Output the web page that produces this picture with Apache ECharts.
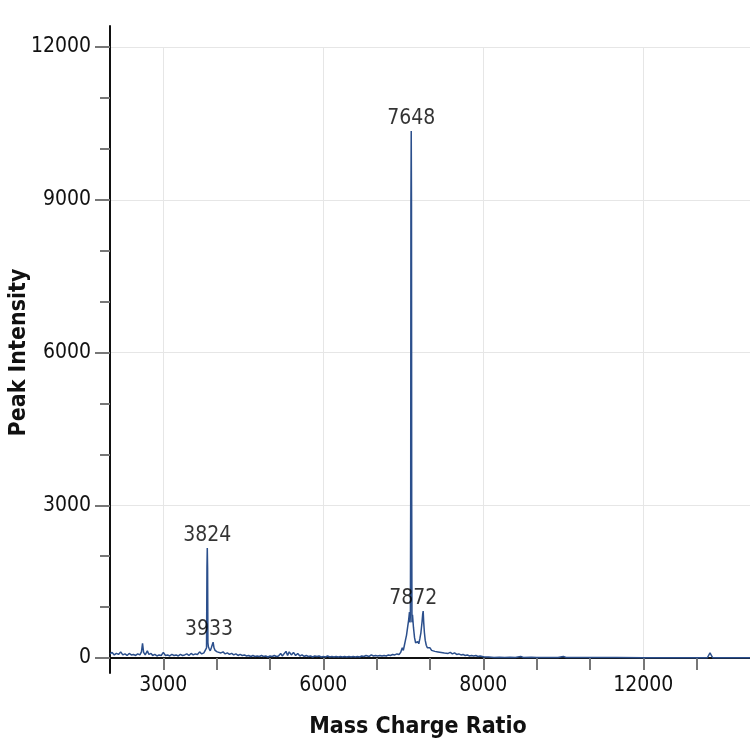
<!DOCTYPE html>
<html>
<head>
<meta charset="utf-8">
<script src="https://cdn.jsdelivr.net/npm/echarts@6/dist/echarts.min.js"></script>
<style>
    html, body { margin: 0; padding: 0; background: #fff; }
    #main { width: 750px; height: 750px; }
</style>
</head>
<body>
<div id="main"></div>
<script>
// spectrum, [m/z, intensity]
var lowRange = [
    [2000, 80], [2040, 110], [2080, 60], [2120, 90], [2160, 70], [2200, 120], [2240, 60], [2280, 80],
    [2320, 50], [2360, 90], [2400, 60], [2440, 70], [2480, 50], [2520, 80], [2560, 60], [2590, 120],
    [2610, 290], [2630, 110], [2660, 60], [2700, 140], [2730, 70], [2770, 90], [2800, 50], [2840, 70],
    [2880, 40], [2920, 60], [2960, 50], [3000, 110], [3040, 50], [3080, 60], [3120, 40], [3160, 70],
    [3200, 50], [3240, 60], [3280, 40], [3320, 70], [3360, 50], [3400, 60], [3440, 80], [3480, 50],
    [3520, 90], [3560, 60], [3600, 80], [3640, 70], [3680, 120], [3720, 80], [3760, 100], [3790, 130]
];
var peak3824 = [
    [3810, 200], [3818, 1770], [3824, 2160], [3830, 1770], [3836, 300], [3845, 220], [3860, 180],
    [3880, 140], [3900, 200], [3915, 230], [3933, 310], [3950, 200], [3970, 150], [3990, 180],
    [4010, 120], [4040, 140]
];
var midRange = [
    [4080, 100], [4120, 120], [4160, 80], [4200, 100], [4240, 70], [4280, 90], [4320, 60], [4360, 80],
    [4400, 50], [4440, 70], [4480, 50], [4520, 60], [4560, 40], [4600, 50], [4640, 30], [4680, 50],
    [4720, 30], [4760, 40], [4800, 30], [4840, 50], [4880, 30], [4920, 40], [4960, 20], [5000, 40],
    [5040, 30], [5080, 50], [5120, 30], [5160, 40], [5200, 90], [5230, 40], [5260, 60], [5300, 130],
    [5330, 50], [5360, 120], [5400, 60], [5440, 110], [5480, 50], [5520, 90], [5560, 40], [5600, 60],
    [5640, 30], [5680, 50], [5720, 30], [5760, 40], [5800, 20], [5840, 40], [5880, 30], [5920, 40],
    [5960, 20], [6000, 30], [6040, 20], [6080, 40], [6120, 20], [6160, 30], [6200, 20], [6240, 30],
    [6280, 20], [6320, 30], [6360, 20], [6400, 30], [6440, 20], [6480, 30], [6520, 20], [6560, 30],
    [6600, 20], [6640, 30], [6680, 20], [6720, 40], [6760, 30], [6800, 50], [6830, 40], [6860, 30],
    [6900, 60], [6940, 40], [6980, 50], [7020, 40], [7060, 50], [7100, 40], [7140, 50], [7180, 40],
    [7220, 60], [7260, 50], [7300, 70], [7340, 60], [7380, 80], [7420, 70], [7450, 110]
];
var peak7648 = [
    [7480, 200], [7500, 150], [7520, 250], [7540, 350], [7560, 450], [7580, 600], [7600, 750],
    [7615, 900], [7625, 700], [7632, 850], [7638, 3100], [7642, 8900], [7648, 10350], [7653, 8900],
    [7657, 3100], [7662, 700], [7672, 850], [7690, 600], [7710, 400], [7730, 300], [7750, 270],
    [7770, 320], [7790, 280], [7810, 380], [7830, 500], [7850, 700], [7862, 850], [7872, 920],
    [7882, 700], [7895, 500], [7910, 350], [7930, 250], [7950, 200], [7970, 170]
];
var highRange = [
    [8000, 200], [8030, 150], [8060, 180], [8090, 130], [8120, 160], [8150, 120], [8180, 140],
    [8210, 110], [8240, 130], [8270, 100], [8300, 120], [8340, 90], [8380, 110], [8420, 80],
    [8460, 100], [8500, 70], [8540, 80], [8580, 60], [8620, 70], [8660, 50], [8700, 60], [8740, 40],
    [8780, 50], [8820, 40], [8860, 50], [8900, 30], [8940, 40], [8980, 30], [9020, 20], [9100, 20],
    [9200, 10], [9300, 15], [9400, 10], [9500, 15], [9600, 10], [9700, 30], [9750, 10], [9900, 15],
    [10000, 10], [10200, 10], [10400, 10], [10500, 30], [10550, 10], [10800, 10], [11000, 10],
    [11200, 10], [11500, 10], [12000, 5], [12500, 5], [13000, 5], [13200, 5], [13250, 100],
    [13300, 5], [13500, 5], [14000, 5]
];

// labelled peaks
var peakNames = ['3824', '3933', '7648', '7872'];
var peakMz = [3824, 3933, 7648, 7872];
var peakOffsets = [[0, 0], [-4, 0], [0, 0], [-10, 0]];

// x tick labels as printed in the original (note the 8000)
var xTickValues = [3000, 6000, 9000, 12000];
var xTickLabels = ['3000', '6000', '8000', '12000'];

var FONT = "'Liberation Sans Narrow', 'DejaVu Sans Condensed', 'Noto Sans', sans-serif";
var chart = echarts.init(document.getElementById('main'));

var spectrum = [].concat(lowRange, peak3824, midRange, peak7648, highRange);

// points that carry a peak label
var labelled = spectrum.filter(function (p) {
    return peakMz.indexOf(p[0]) >= 0;
}).map(function (p) {
    var k = peakMz.indexOf(p[0]);
    return {
        value: p,
        label: { offset: peakOffsets[k], formatter: peakNames[k] }
    };
});

var thinAxis = {
    type: 'value',
    min: 0,
    max: 1,
    axisLine: { show: true, lineStyle: { color: '#111', width: 2 } },
    axisTick: { show: false },
    axisLabel: { show: false },
    splitLine: { show: false }
};

chart.setOption({
    backgroundColor: '#fff',
    animation: false,
    grid: [
        { left: 110, right: 0, top: 47, bottom: 92, outerBoundsMode: 'none', containLabel: false },
        // bits of the y axis line that run past 0 and 12000
        { left: 110, right: 0, top: 658, bottom: 77, outerBoundsMode: 'none', containLabel: false },
        { left: 110, right: 0, top: 26, height: 21, outerBoundsMode: 'none', containLabel: false }
    ],
    xAxis: [{
        type: 'value',
        min: 2000,
        max: 14000,
        interval: 1000,
        name: 'Mass Charge Ratio',
        nameLocation: 'middle',
        nameGap: 58,
        nameMoveOverlap: false,
        nameTextStyle: { fontFamily: FONT, fontSize: 23, fontWeight: 'bold', color: '#111', padding: [0, 24, 0, 0] },
        axisLine: { onZero: false, lineStyle: { color: '#111', width: 2 } },
        axisTick: { show: true, length: 12, lineStyle: { color: '#777', width: 2 } },
        axisLabel: {
            margin: 17,
            fontFamily: FONT,
            fontSize: 21,
            color: '#111',
            showMinLabel: false,
            showMaxLabel: false,
            formatter: function (v) {
                var k = xTickValues.indexOf(v);
                return k < 0 ? '' : xTickLabels[k];
            }
        },
        splitLine: {
            show: true,
            lineStyle: { color: ['rgba(0,0,0,0)', '#e6e6e6', 'rgba(0,0,0,0)'], width: 1 }
        }
    },
    Object.assign({ gridIndex: 1, show: false }, { type: 'value', min: 0, max: 1 }),
    Object.assign({ gridIndex: 2, show: false }, { type: 'value', min: 0, max: 1 })],
    yAxis: [{
        type: 'value',
        min: 0,
        max: 12000,
        interval: 3000,
        name: 'Peak Intensity',
        nameLocation: 'middle',
        nameGap: 79,
        nameMoveOverlap: false,
        nameTextStyle: { fontFamily: FONT, fontSize: 23, fontWeight: 'bold', color: '#111' },
        axisLine: { show: true, lineStyle: { color: '#111', width: 2 } },
        axisTick: { show: true, length: 15, lineStyle: { color: '#777', width: 2 } },
        minorTick: { show: true, splitNumber: 3, length: 10, lineStyle: { color: '#777', width: 2 } },
        axisLabel: {
            margin: 19,
            fontFamily: FONT,
            fontSize: 21,
            color: '#111',
            formatter: function (v) { return String(v); }
        },
        splitLine: { show: true, lineStyle: { color: '#e6e6e6', width: 1 } }
    },
    Object.assign({ gridIndex: 1 }, thinAxis),
    Object.assign({ gridIndex: 2 }, thinAxis)],
    series: [{
        type: 'line',
        data: spectrum,
        symbol: 'none',
        smooth: false,
        clip: false,
        lineStyle: { color: '#2b4f8c', width: 1.5 },
        itemStyle: { color: '#2b4f8c' },
        z: 3
    }, {
        type: 'scatter',
        data: labelled,
        symbolSize: 0,
        clip: false,
        silent: true,
        label: {
            show: true,
            position: 'top',
            distance: 2,
            color: '#000',
            fontFamily: FONT,
            fontSize: 21
        },
        z: 4
    }]
});
</script>
</body>
</html>
